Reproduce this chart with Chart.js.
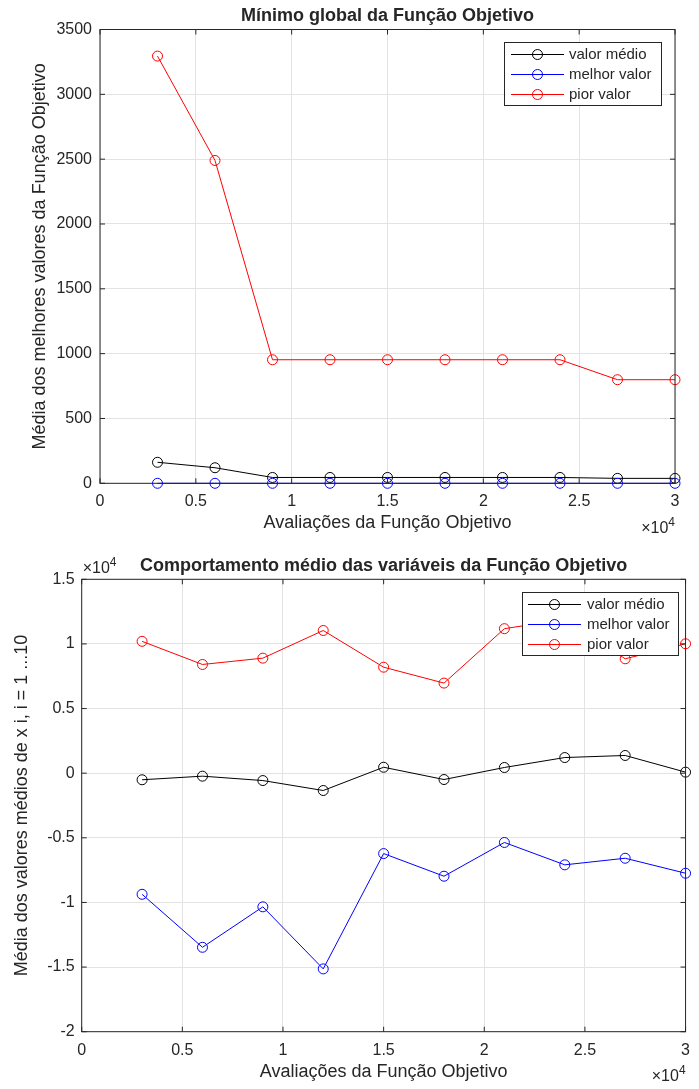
<!DOCTYPE html>
<html>
<head>
<meta charset="utf-8">
<script src="https://cdn.jsdelivr.net/npm/chart.js@4"></script>
<style>
  body { margin: 0; background: #fff; }
  canvas { display: block; }
</style>
</head>
<body>
<canvas id="chartTop" width="699" height="545"></canvas>
<canvas id="chartBottom" width="699" height="544"></canvas>
<script>
// avaliações da função objetivo (eixo x)
const avaliacoes = [3000, 6000, 9000, 12000, 15000, 18000, 21000, 24000, 27000, 30000];

// gráfico 1: mínimo global
const medioGlobal = [162, 120, 45, 45, 45, 45, 45, 45, 38, 38];
const melhorGlobal = [0, 0, 0, 0, 0, 0, 0, 0, 0, 0];
const piorGlobal = [3295, 2490, 953, 953, 953, 953, 953, 953, 799, 799];

// gráfico 2: comportamento médio das variáveis
const medioVars = [-510, -230, -570, -1340, 460, -490, 440, 1210, 1370, 80];
const melhorVars = [-9370, -13470, -10340, -15140, -6220, -7970, -5360, -7090, -6580, -7740];
const piorVars = [10200, 8410, 8900, 11040, 8200, 6970, 11180, 11900, 8850, 10010];

const legendas = ["valor médio", "melhor valor", "pior valor"];
const cores = ["#000000", "#0000ff", "#ff0000"];

const FONT = "'Liberation Sans', Arial, Helvetica, sans-serif";
const TXT = "#262626";

function pontos(ys) {
  return avaliacoes.map((x, i) => ({ x: x, y: ys[i] }));
}

function drawExp(ctx, left, yMid) {
  ctx.font = "16px " + FONT;
  ctx.textAlign = "left";
  ctx.textBaseline = "middle";
  ctx.fillText("×10", left, yMid);
  const w = ctx.measureText("×10").width;
  ctx.font = "12px " + FONT;
  ctx.fillText("4", left + w, yMid - 6);
  ctx.font = "16px " + FONT;
  return w + ctx.measureText("4").width;
}

function expWidth(ctx) {
  ctx.font = "16px " + FONT;
  const w = ctx.measureText("×10").width;
  ctx.font = "12px " + FONT;
  return w + ctx.measureText("4").width;
}

const matlabAxes = {
  id: "matlabAxes",
  afterDraw(chart, args, o) {
    const { ctx, chartArea: a, scales } = chart;
    const x = scales.x, y = scales.y;
    ctx.save();
    ctx.strokeStyle = TXT;
    ctx.lineWidth = 1;
    ctx.strokeRect(a.left, a.top, a.right - a.left, a.bottom - a.top);

    // marcas dos ticks para dentro
    ctx.beginPath();
    x.ticks.forEach((t) => {
      const px = x.getPixelForValue(t.value);
      ctx.moveTo(px, a.bottom); ctx.lineTo(px, a.bottom - 5);
      ctx.moveTo(px, a.top); ctx.lineTo(px, a.top + 5);
    });
    y.ticks.forEach((t) => {
      const py = y.getPixelForValue(t.value);
      ctx.moveTo(a.left, py); ctx.lineTo(a.left + 5, py);
      ctx.moveTo(a.right, py); ctx.lineTo(a.right - 5, py);
    });
    ctx.stroke();

    // legenda
    const L = o.legend;
    ctx.fillStyle = "#fff";
    ctx.fillRect(L.x0, L.y0, L.x1 - L.x0, L.y1 - L.y0);
    ctx.strokeStyle = TXT;
    ctx.strokeRect(L.x0, L.y0, L.x1 - L.x0, L.y1 - L.y0);
    chart.data.datasets.forEach((ds, i) => {
      const ry = L.rows[i];
      ctx.strokeStyle = ds.borderColor;
      ctx.beginPath();
      ctx.moveTo(L.lineX0, ry); ctx.lineTo(L.lineX1, ry);
      ctx.stroke();
      ctx.beginPath();
      ctx.arc(L.markX, ry, 5, 0, Math.PI * 2);
      ctx.stroke();
      ctx.fillStyle = TXT;
      ctx.font = "15px " + FONT;
      ctx.textAlign = "left";
      ctx.textBaseline = "middle";
      ctx.fillText(ds.label, L.textX, ry);
    });

    // título
    ctx.fillStyle = TXT;
    ctx.font = "bold 18px " + FONT;
    ctx.textAlign = "center";
    ctx.textBaseline = "middle";
    ctx.fillText(o.title, (a.left + a.right) / 2, o.titleY);

    // fatores x10^4
    const ew = expWidth(ctx);
    drawExp(ctx, a.right - ew, o.xExpY);
    if (o.yExpY !== undefined) drawExp(ctx, a.left + 1, o.yExpY);
    ctx.restore();
  },
};

function criarGrafico(id, series, cfg) {
  const datasets = series.map((s, i) => ({
    label: legendas[i],
    data: pontos(s),
    borderColor: cores[i],
    backgroundColor: "transparent",
    borderWidth: 1,
    pointRadius: 5,
    pointHoverRadius: 5,
    pointBorderWidth: 1,
    pointBackgroundColor: "transparent",
    pointBorderColor: cores[i],
    tension: 0,
    clip: false,
    order: 3 - i,
  }));

  return new Chart(document.getElementById(id), {
    type: "line",
    data: { datasets: datasets },
    plugins: [matlabAxes],
    options: {
      responsive: false,
      animation: false,
      devicePixelRatio: 1,
      layout: { padding: cfg.padding },
      plugins: {
        legend: { display: false },
        tooltip: { enabled: false },
        matlabAxes: cfg.deco,
      },
      scales: {
        x: {
          type: "linear",
          min: 0,
          max: 30000,
          ticks: {
            stepSize: 5000,
            color: TXT,
            padding: cfg.xTickPad,
            font: { family: FONT, size: 16 },
            maxRotation: 0,
            callback: (v) => String(v / 10000),
          },
          grid: { color: "#e3e3e3", drawTicks: false },
          border: { display: false },
          title: {
            display: true,
            text: "Avaliações da Função Objetivo",
            color: TXT,
            font: { family: FONT, size: 18 },
            padding: { top: 0, bottom: cfg.xTitlePad },
          },
          afterFit: (s) => { s.height = cfg.xHeight; },
        },
        y: {
          min: cfg.yMin,
          max: cfg.yMax,
          ticks: {
            stepSize: cfg.yStep,
            color: TXT,
            padding: cfg.yTickPad,
            font: { family: FONT, size: 16 },
            callback: cfg.yFmt,
          },
          grid: { color: "#e3e3e3", drawTicks: false },
          border: { display: false },
          title: {
            display: true,
            text: cfg.yTitle,
            color: TXT,
            font: { family: FONT, size: 18 },
            padding: { top: cfg.yTitlePad, bottom: 0 },
          },
          afterFit: (s) => { s.width = cfg.yWidth; },
        },
      },
    },
  });
}

criarGrafico("chartTop", [medioGlobal, melhorGlobal, piorGlobal], {
  padding: { top: 29.5, right: 24, left: 0, bottom: 0 },
  yWidth: 100,
  xHeight: 61.7,
  yMin: 0,
  yMax: 3500,
  yStep: 500,
  yFmt: (v) => String(v),
  yTitle: "Média dos melhores valores da Função Objetivo",
  yTitlePad: 29,
  xTitlePad: 10.9,
  xTickPad: 9,
  yTickPad: 8,
  deco: {
    title: "Mínimo global da Função Objetivo",
    titleY: 16,
    xExpY: 529,
    legend: {
      x0: 504.5, x1: 661.5, y0: 42.5, y1: 105.5,
      rows: [54.5, 74.5, 94.5],
      lineX0: 511, lineX1: 564, markX: 537.5, textX: 569,
    },
  },
});

criarGrafico("chartBottom", [medioVars, melhorVars, piorVars], {
  padding: { top: 34.3, right: 6.3, left: 0, bottom: 0 },
  yWidth: 81.7,
  xHeight: 57.3,
  yMin: -20000,
  yMax: 15000,
  yStep: 5000,
  yFmt: (v) => String(v / 10000),
  yTitle: "Média dos valores médios de x i, i = 1 ...10",
  yTitlePad: 11,
  xTitlePad: 5.9,
  xTickPad: 9,
  yTickPad: 7,
  deco: {
    title: "Comportamento médio das variáveis da Função Objetivo",
    titleY: 21,
    xExpY: 531.7,
    yExpY: 24,
    legend: {
      x0: 522.5, x1: 678.5, y0: 47.5, y1: 110.5,
      rows: [59.5, 79.5, 99.5],
      lineX0: 528, lineX1: 581, markX: 554.5, textX: 587,
    },
  },
});
</script>
</body>
</html>
